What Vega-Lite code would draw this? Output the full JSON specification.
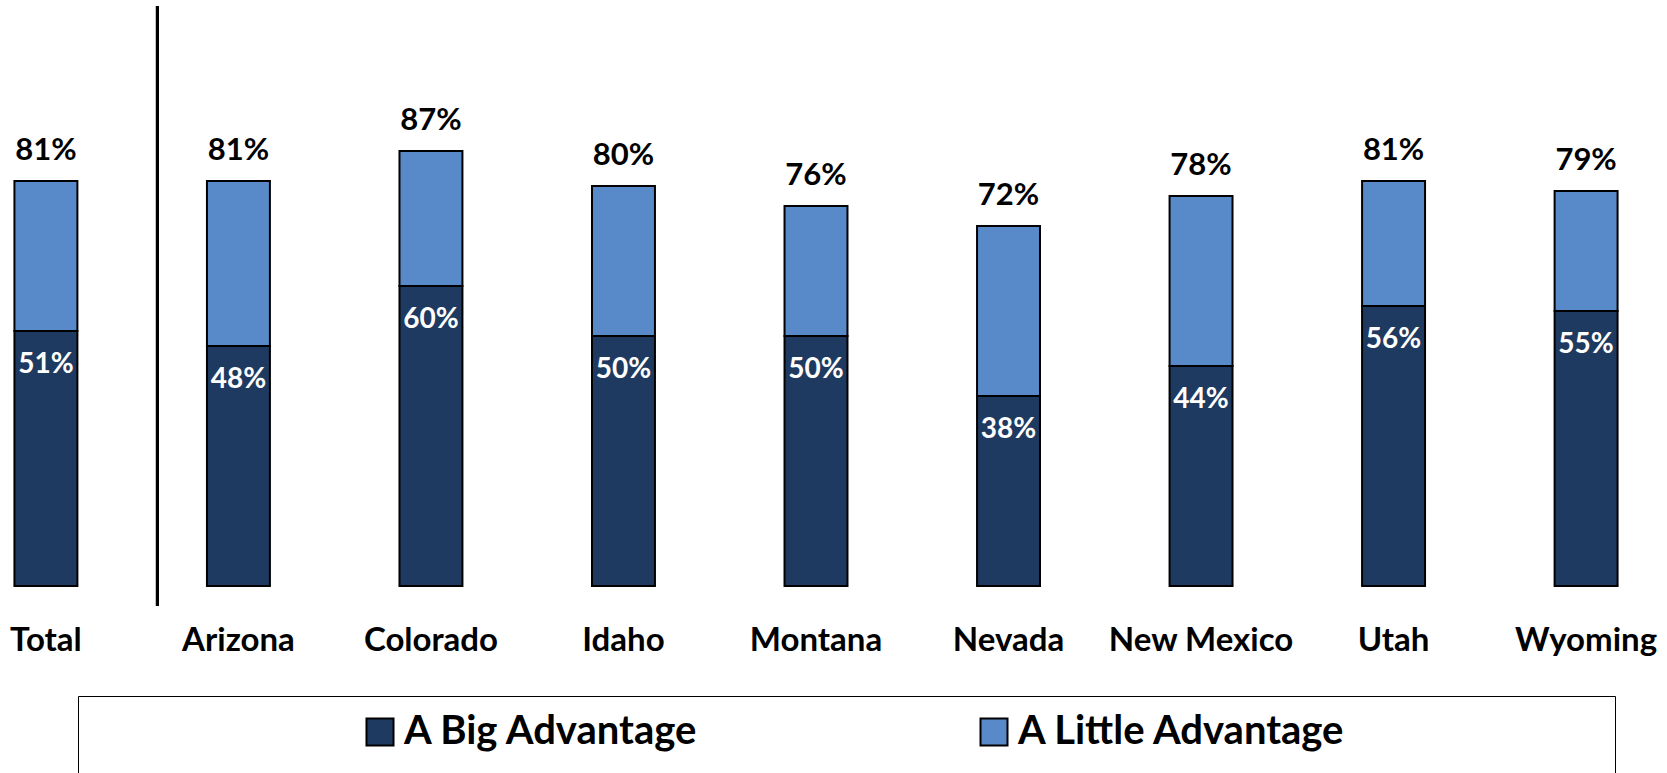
{
  "$schema": "https://vega.github.io/schema/vega-lite/v6.json",
  "width": 1632,
  "height": 586,
  "autosize": {"type": "none"},
  "padding": {"left": 0, "top": 0, "right": 35, "bottom": 187},
  "background": "white",
  "config": {"view": {"stroke": null}, "font": "Lato"},
  "data": {
    "values": [
      {"state": "Total", "A Big Advantage": 0.51, "A Little Advantage": 0.30, "total": 0.81},
      {"state": "Arizona", "A Big Advantage": 0.48, "A Little Advantage": 0.33, "total": 0.81},
      {"state": "Colorado", "A Big Advantage": 0.60, "A Little Advantage": 0.27, "total": 0.87},
      {"state": "Idaho", "A Big Advantage": 0.50, "A Little Advantage": 0.30, "total": 0.80},
      {"state": "Montana", "A Big Advantage": 0.50, "A Little Advantage": 0.26, "total": 0.76},
      {"state": "Nevada", "A Big Advantage": 0.38, "A Little Advantage": 0.34, "total": 0.72},
      {"state": "New Mexico", "A Big Advantage": 0.44, "A Little Advantage": 0.34, "total": 0.78},
      {"state": "Utah", "A Big Advantage": 0.56, "A Little Advantage": 0.25, "total": 0.81},
      {"state": "Wyoming", "A Big Advantage": 0.55, "A Little Advantage": 0.24, "total": 0.79}
    ]
  },
  "encoding": {
    "x": {
      "field": "state",
      "type": "nominal",
      "sort": null,
      "scale": {"paddingInner": 0.673, "paddingOuter": 0.075},
      "axis": {
        "title": null,
        "domain": false,
        "ticks": false,
        "tickSize": 0,
        "labelAngle": 0,
        "labelFont": "Lato",
        "labelFontSize": 33,
        "labelFontWeight": "bold",
        "labelColor": "black",
        "labelBaseline": "alphabetic",
        "labelPadding": 64,
        "labelLimit": 400
      }
    }
  },
  "layer": [
    {
      "transform": [{"fold": ["A Big Advantage", "A Little Advantage"], "as": ["segment", "value"]}],
      "mark": {"type": "bar", "stroke": "black", "strokeWidth": 2},
      "encoding": {
        "y": {
          "field": "value",
          "type": "quantitative",
          "stack": "zero",
          "scale": {"domain": [0, 1.172], "nice": false, "zero": true},
          "axis": null
        },
        "color": {
          "field": "segment",
          "type": "nominal",
          "scale": {"domain": ["A Big Advantage", "A Little Advantage"], "range": ["#1f3a60", "#5889c8"]},
          "legend": {
            "title": "\u00a0",
            "titleOrient": "left",
            "titleFont": "Lato",
            "titleFontSize": 100,
            "titleBaseline": "top",
            "titleAnchor": "start",
            "titlePadding": 266,
            "orient": "none",
            "legendX": 78,
            "legendY": 696,
            "direction": "horizontal",
            "strokeColor": "black",
            "padding": 16,
            "symbolType": "square",
            "symbolSize": 729,
            "symbolStrokeColor": "black",
            "symbolStrokeWidth": 2,
            "symbolOpacity": 1,
            "labelFont": "Lato",
            "labelFontSize": 40,
            "labelFontWeight": "bold",
            "labelColor": "black",
            "labelOffset": 4,
            "labelLimit": 2000,
            "columnPadding": 274,
            "labelExpr": "datum.index == 1 ? datum.label + '\u00a0\u00a0\u00a0\u00a0\u00a0\u00a0\u00a0\u00a0\u00a0\u00a0\u00a0\u00a0\u00a0\u00a0\u00a0\u00a0\u00a0\u00a0\u00a0\u00a0\u00a0\u00a0\u00a0\u2800' : datum.label"
          }
        },
        "order": {"field": "segment", "sort": "ascending"}
      }
    },
    {
      "mark": {"type": "text", "baseline": "alphabetic", "dy": -21, "fontSize": 31, "fontWeight": "bold", "color": "black", "font": "Lato"},
      "encoding": {
        "y": {"field": "total", "type": "quantitative"},
        "text": {"field": "total", "type": "quantitative", "format": ".0%"}
      }
    },
    {
      "mark": {"type": "text", "baseline": "alphabetic", "dy": 42, "fontSize": 28, "fontWeight": "bold", "color": "white", "font": "Lato"},
      "encoding": {
        "y": {"field": "A Big Advantage", "type": "quantitative"},
        "text": {"field": "A Big Advantage", "type": "quantitative", "format": ".0%"}
      }
    },
    {
      "mark": {"type": "rule", "color": "black", "strokeWidth": 2.5},
      "encoding": {
        "x": {"datum": "Arizona", "bandPosition": -0.79},
        "y": {"datum": 1.16, "type": "quantitative"},
        "y2": {"datum": -0.04}
      }
    }
  ]
}
